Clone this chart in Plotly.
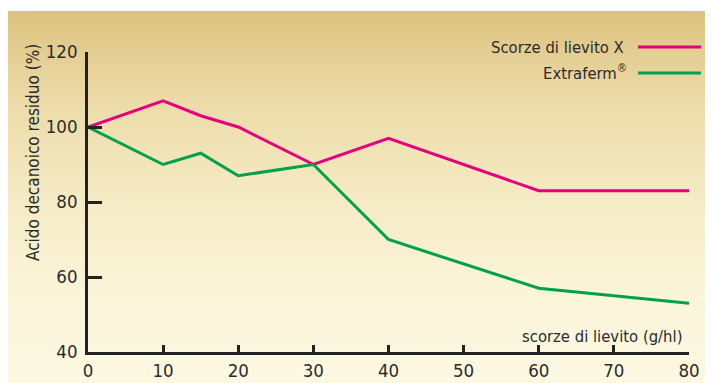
import plotly.graph_objects as go

# Data
dose = [0, 10, 15, 20, 30, 40, 60, 80]
scorze_x = [100, 107, 103, 100, 90, 97, 83, 83]
extraferm = [100, 90, 93, 87, 90, 70, 57, 53]
x_ticks = [0, 10, 20, 30, 40, 50, 60, 70, 80]
y_ticks = [40, 60, 80, 100, 120]

PINK = "#e5007d"
GREEN = "#00a14b"
FONT = "DejaVu Sans Condensed, Liberation Sans Narrow, sans-serif"
TXT = "#2b2b2b"

OFF = 8  # page body margin
W, H = 713 - OFF, 383 - OFF
PL, PR, PT, PB = 88, 689, 52, 352  # plot area in screenshot pixels
L, T = PL - OFF, PT - OFF
R = W - (PR - OFF)
B = H - (PB - OFF)
pw, ph = PR - PL, PB - PT

def px2paper_x(px):
    return (px - PL) / pw

def px2paper_y(py):
    return (PB - py) / ph

fig = go.Figure()
fig.add_trace(go.Scatter(x=dose, y=scorze_x, mode="lines", name="Scorze di lievito X",
                         line=dict(color=PINK, width=3), cliponaxis=False))
fig.add_trace(go.Scatter(x=dose, y=extraferm, mode="lines", name="Extraferm®",
                         line=dict(color=GREEN, width=3), cliponaxis=False))

# background gradient (styling) as horizontal stripes
stops = [(11, (220, 194, 126)), (100, (236, 219, 168)), (200, (245, 235, 196)),
         (300, (251, 245, 218)), (383, (253, 248, 226))]

def col_at(py):
    for i in range(len(stops) - 1):
        y0, c0 = stops[i]
        y1, c1 = stops[i + 1]
        if y0 <= py <= y1:
            t = (py - y0) / (y1 - y0)
            return tuple(round(c0[k] + (c1[k] - c0[k]) * t) for k in range(3))
    return stops[-1][1]

shapes = []
step = 3
py = 11
while py < 383:
    py2 = min(py + step, 383)
    c = col_at((py + py2) / 2)
    shapes.append(dict(type="rect", xref="paper", yref="paper",
                       x0=px2paper_x(7), x1=px2paper_x(716),
                       y0=px2paper_y(py2 + 0.5), y1=px2paper_y(py),
                       fillcolor="rgb(%d,%d,%d)" % c, line=dict(width=0), layer="below"))
    py = py2

# legend lines
for yy, cc in [(47, PINK), (73, GREEN)]:
    shapes.append(dict(type="line", xref="paper", yref="paper",
                       x0=px2paper_x(638), x1=px2paper_x(701),
                       y0=px2paper_y(yy), y1=px2paper_y(yy),
                       line=dict(color=cc, width=3)))

annotations = [
    dict(text="Scorze di lievito X", xref="paper", yref="paper",
         x=px2paper_x(626), y=px2paper_y(47), xanchor="right", yanchor="middle",
         showarrow=False, font=dict(family=FONT, size=16.5, color=TXT)),
    dict(text="Extraferm<sup>®</sup>", xref="paper", yref="paper",
         x=px2paper_x(629), y=px2paper_y(72), xanchor="right", yanchor="middle",
         showarrow=False, font=dict(family=FONT, size=16.5, color=TXT)),
    dict(text="Acido decanoico residuo (%)", xref="paper", yref="paper",
         x=px2paper_x(33), y=px2paper_y(153), xanchor="center", yanchor="middle",
         textangle=-90, showarrow=False, font=dict(family=FONT, size=17, color=TXT)),
    dict(text="scorze di lievito (g/hl)", xref="paper", yref="paper",
         x=px2paper_x(684), y=px2paper_y(336), xanchor="right", yanchor="middle",
         showarrow=False, font=dict(family=FONT, size=16.5, color=TXT)),
]

fig.update_layout(
    width=W, height=H,
    margin=dict(l=L, r=R, t=T, b=B, pad=0, autoexpand=False),
    paper_bgcolor="white",
    plot_bgcolor="rgba(0,0,0,0)",
    showlegend=False,
    shapes=shapes,
    annotations=annotations,
    font=dict(family=FONT, color=TXT, size=18),
    xaxis=dict(range=[0, 80], tickvals=x_ticks, ticktext=[str(v) for v in x_ticks],
               automargin=False,
               showgrid=False, zeroline=False, showline=True, linecolor="#222",
               linewidth=2.5, ticks="inside", ticklen=7, tickwidth=2.5, tickcolor="#222",
               tickfont=dict(family=FONT, size=18.5, color=TXT)),
    yaxis=dict(range=[40, 120], tickvals=y_ticks, ticktext=[str(v) for v in y_ticks],
               automargin=False,
               showgrid=False, zeroline=False, showline=True, linecolor="#222",
               linewidth=2.5, ticks="inside", ticklen=14, tickwidth=2.5, tickcolor="#222",
               ticklabelstandoff=4,
               tickfont=dict(family=FONT, size=18.5, color=TXT)),
)

fig.write_html("out.html")
